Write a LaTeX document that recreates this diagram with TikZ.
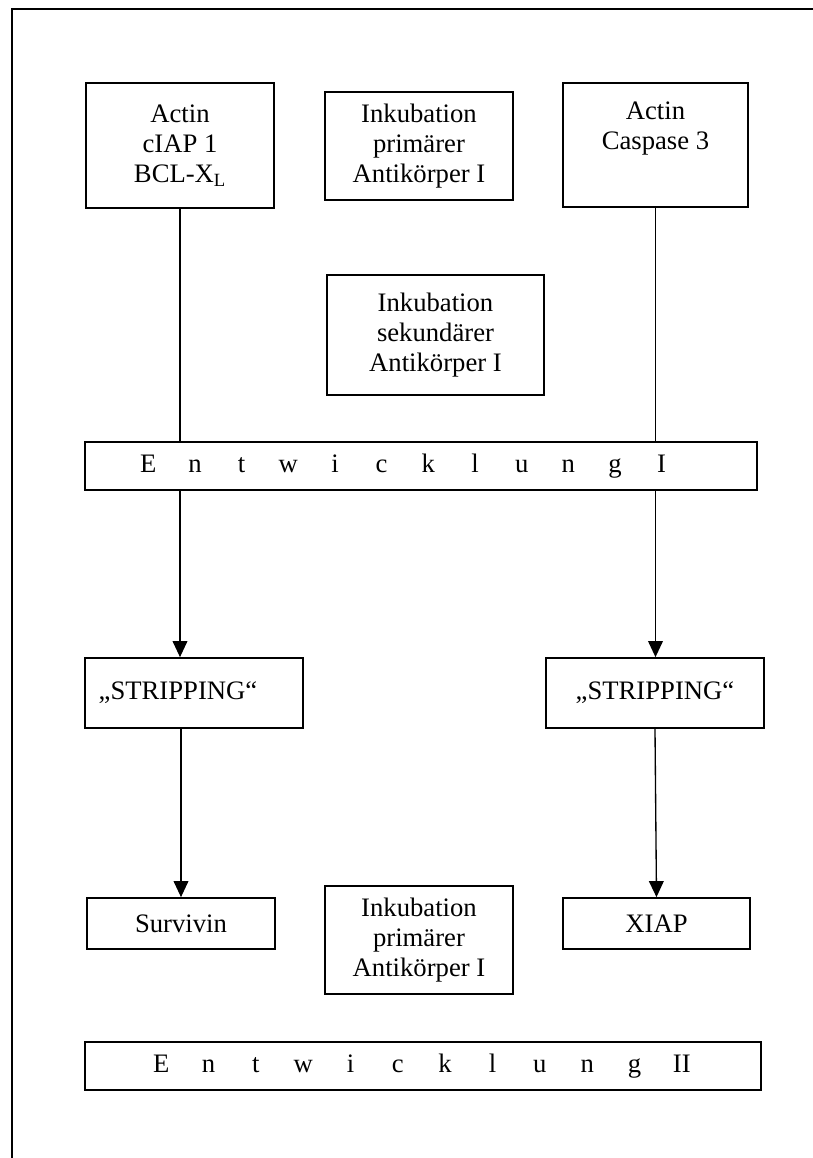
\documentclass[tikz,border=0pt]{standalone}
\usepackage{fontspec}
\setmainfont{Liberation Serif}
\usetikzlibrary{arrows.meta}
\tikzset{
  box/.style={draw, line width=1.3pt, inner sep=0pt, align=center,
    font=\fontsize{20pt}{22.5pt}\selectfont},
  txt/.style={inner sep=0pt, align=center, font=\fontsize{20pt}{22.5pt}\selectfont},
  conn/.style={line width=1pt},
  arr/.style={line width=1pt, -{Triangle[length=12pt,width=11pt]}},
  frameline/.style={line width=1.3pt}
}
\newcommand\spc[2]{\makebox[#1]{#2}}
\begin{document}
\begin{tikzpicture}[x=0.75pt,y=-0.75pt]
\useasboundingbox (0,0) rectangle (813,1158);
\clip (0,0) rectangle (813,1158);
\draw[frameline] (12,1170) -- (12,9) -- (830,9);

\node[box, minimum width=141pt, minimum height=93.75pt] (A) at (180,145.5)
  {Actin\\cIAP 1\\BCL-X\textsubscript{L}};
\node[box, minimum width=141pt, minimum height=81pt] (P1) at (419,146)
  {Inkubation\\primärer\\Antikörper I};
\node[box, minimum width=138.75pt, minimum height=93pt] (C) at (655.5,145)
  {Actin\\Caspase 3\\\strut};
\node[box, minimum width=162.75pt, minimum height=90pt] (S1) at (435.5,335)
  {Inkubation\\sekundärer\\Antikörper I};
\node[box, minimum width=504pt, minimum height=36pt] (E1) at (421,466) {};
\node[txt] (E1t) at (405,466) {\spc{35pt}{E}\spc{35pt}{n}\spc{35pt}{t}\spc{35pt}{w}\spc{35pt}{i}\spc{35pt}{c}\spc{35pt}{k}\spc{35pt}{l}\spc{35pt}{u}\spc{35pt}{n}\spc{35pt}{g}\spc{35pt}{I}};
\node[box, minimum width=163.5pt, minimum height=52.5pt] (ST1) at (194,693) {};
\node[txt] (ST1t) at (178,693) {„STRIPPING“};
\node[box, minimum width=163.5pt, minimum height=52.5pt] (ST2) at (655,693) {„STRIPPING“};
\node[box, minimum width=141pt, minimum height=38.25pt] (SV) at (181,923.5) {Survivin};
\node[box, minimum width=140.25pt, minimum height=38.25pt] (XI) at (656.5,923.5) {XIAP};
\node[box, minimum width=141pt, minimum height=81pt] (P2) at (419,940)
  {Inkubation\\primärer\\Antikörper I};
\node[box, minimum width=507pt, minimum height=36pt] (E2) at (423,1066) {};
\node[txt] (E2t) at (421.5,1066) {\spc{35.5pt}{E}\spc{35.5pt}{n}\spc{35.5pt}{t}\spc{35.5pt}{w}\spc{35.5pt}{i}\spc{35.5pt}{c}\spc{35.5pt}{k}\spc{35.5pt}{l}\spc{35.5pt}{u}\spc{35.5pt}{n}\spc{35.5pt}{g}\spc{35.5pt}{II}};

\draw[conn] (A.south) -- (A.south |- E1.north);
\draw[conn] (C.south) -- (C.south |- E1.north);
\draw[arr] (A.south |- E1.south) -- (A.south |- ST1.north);
\draw[arr] (C.south |- E1.south) -- (C.south |- ST2.north);
\draw[arr] (SV.north |- ST1.south) -- (SV.north);
\draw[arr] (ST2.south) -- (XI.north);
\end{tikzpicture}
\end{document}
